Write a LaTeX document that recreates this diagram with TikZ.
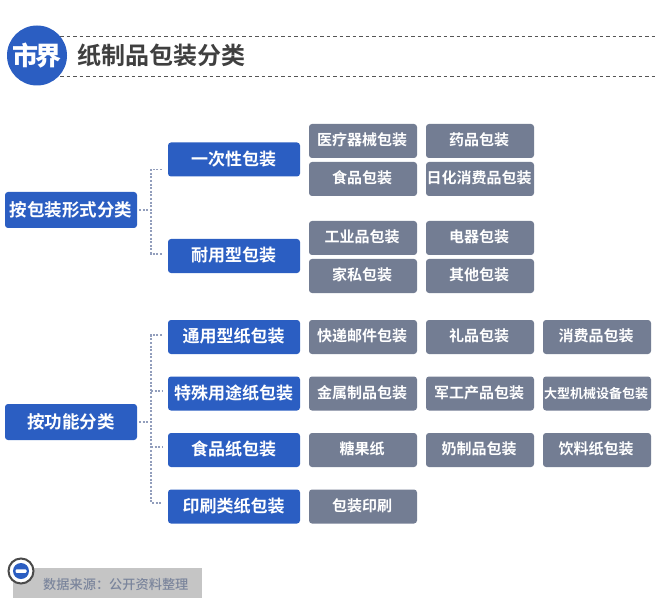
\documentclass[tikz,border=0pt]{standalone}
\usepackage{fontspec}
\setmainfont{Noto Sans CJK SC}[BoldFont={Noto Sans CJK SC Bold}]
\newfontfamily\cjkblack{Noto Sans CJK SC Black}
\newfontfamily\cjkmed{Noto Sans CJK SC Medium}
\definecolor{blu}{HTML}{2B5EC2}
\definecolor{gry}{HTML}{737D93}
\definecolor{conn}{HTML}{929EBC}
\definecolor{dash}{HTML}{555555}
\definecolor{src}{HTML}{C5C5C5}
\definecolor{srct}{HTML}{7B859C}
\definecolor{ttl}{HTML}{3F3F3F}
\definecolor{ring}{HTML}{4A4A4A}
\tikzset{
 x=1pt,y=-1pt,
 boxbase/.style={rounded corners=3pt,inner sep=0pt,text=white,anchor=center},
 rootbox/.style={boxbase,fill=blu,minimum width=132pt,minimum height=36pt,font=\bfseries\fontsize{17.5}{20}\selectfont,text height=14pt,text depth=1.6pt},
 catbox/.style={boxbase,fill=blu,minimum width=132pt,minimum height=34pt,font=\bfseries\fontsize{17}{20}\selectfont,text height=13pt,text depth=1.6pt,execute at begin node=\kern-1pt},
 itembox/.style={boxbase,fill=gry,minimum width=108pt,minimum height=34pt,font=\bfseries\fontsize{15}{18}\selectfont,text height=12pt,text depth=2.2pt,execute at begin node=\kern-2pt},
 link/.style={draw=conn,line width=1.1pt,dash pattern=on 2pt off 1.6pt},
 rule/.style={draw=dash,line width=0.8pt,dash pattern=on 3.5pt off 3pt},
}
\begin{document}
\begin{tikzpicture}
\useasboundingbox (0,0) rectangle (660,609);
% header
\coordinate (ruleAl) at (60,36); \coordinate (ruleAr) at (655,36);
\coordinate (ruleBl) at (60,76); \coordinate (ruleBr) at (655,76);
\draw[rule] (ruleAl) -- (ruleAr);
\draw[rule] (ruleBl) -- (ruleBr);
\node[circle,fill=blu,minimum size=60pt,inner sep=0pt,text=white,font=\cjkblack\fontsize{26}{28}\selectfont] (logo) at (37,55.5) {市\kern-0.1em 界};
\node[anchor=west,inner sep=0pt,text=ttl,font=\bfseries\fontsize{24}{28}\selectfont] (title) at (77.5,55) {纸制品包装分类};
% roots
\node[rootbox] (r1) at (71,210) {按包装形式分类};
\node[rootbox] (r2) at (71,422) {按功能分类};
% categories
\node[catbox] (c1) at (234,159.5) {一次性包装};
\node[catbox] (c2) at (234,256) {耐用型包装};
\node[catbox] (c3) at (234,337) {通用型纸包装};
\node[catbox] (c4) at (234,393.5) {特殊用途纸包装};
\node[catbox] (c5) at (234,450) {食品纸包装};
\node[catbox] (c6) at (234,506.5) {印刷类纸包装};
% items
\node[itembox] (a1) at (363,141) {医疗器械包装};
\node[itembox] (a2) at (480,141) {药品包装};
\node[itembox] (a3) at (363,179) {食品包装};
\node[itembox] (a4) at (480,179) {日化消费品包装};
\node[itembox] (b1) at (363,238) {工业品包装};
\node[itembox] (b2) at (480,238) {电器包装};
\node[itembox] (b3) at (363,276) {家私包装};
\node[itembox] (b4) at (480,276) {其他包装};
\node[itembox] (d1) at (363,337) {快递邮件包装};
\node[itembox] (d2) at (480,337) {礼品包装};
\node[itembox] (d3) at (597,337) {消费品包装};
\node[itembox] (e1) at (363,393.5) {金属制品包装};
\node[itembox] (e2) at (480,393.5) {军工产品包装};
\node[itembox,font=\bfseries\fontsize{13}{16}\selectfont] (e3) at (597,393.5) {大型机械设备包装};
\node[itembox] (f1) at (363,450) {糖果纸};
\node[itembox] (f2) at (480,450) {奶制品包装};
\node[itembox] (f3) at (597,450) {饮料纸包装};
\node[itembox] (g1) at (363,506.5) {包装印刷};
% connectors
\coordinate (t1) at (151,210);
\coordinate (t1a) at (151,169.5); \coordinate (e1a) at (162,169.5);
\coordinate (t1b) at (151,254); \coordinate (e1b) at (162,254);
\draw[link] ([xshift=2pt]r1.east) -- (t1);
\draw[link] (e1a) -- (t1a) -- (t1b) -- (e1b);
\coordinate (t2) at (151,422);
\coordinate (t2a) at (151,335); \coordinate (e2a) at (162,335);
\coordinate (t2b) at (151,391); \coordinate (e2b) at (162,391);
\coordinate (t2c) at (151,447); \coordinate (e2c) at (162,447);
\coordinate (t2d) at (151,503); \coordinate (e2d) at (162,503);
\draw[link] ([xshift=2pt]r2.east) -- (t2);
\draw[link] (e2a) -- (t2a) -- (t2d) -- (e2d);
\draw[link] (t2b) -- (e2b);
\draw[link] (t2c) -- (e2c);
% source
\node[fill=src,minimum width=189pt,minimum height=30pt,inner sep=0pt,anchor=north west] (srcbar) at (13,568) {};
\node[anchor=west,inner sep=0pt,text=srct,font=\cjkmed\fontsize{13.2}{16}\selectfont] (srctext) at (43,584) {数据来源：公开资料整理};
\node[circle,draw=ring,line width=2pt,fill=white,minimum size=25pt,inner sep=0pt] (ico) at (21,571) {};
\node[circle,fill=blu,minimum size=16pt,inner sep=0pt] (icoin) at (ico.center) {};
\node[fill=white,minimum width=11pt,minimum height=3.5pt,inner sep=0pt,rounded corners=1pt] (icobar) at (ico.center) {};
\end{tikzpicture}
\end{document}
